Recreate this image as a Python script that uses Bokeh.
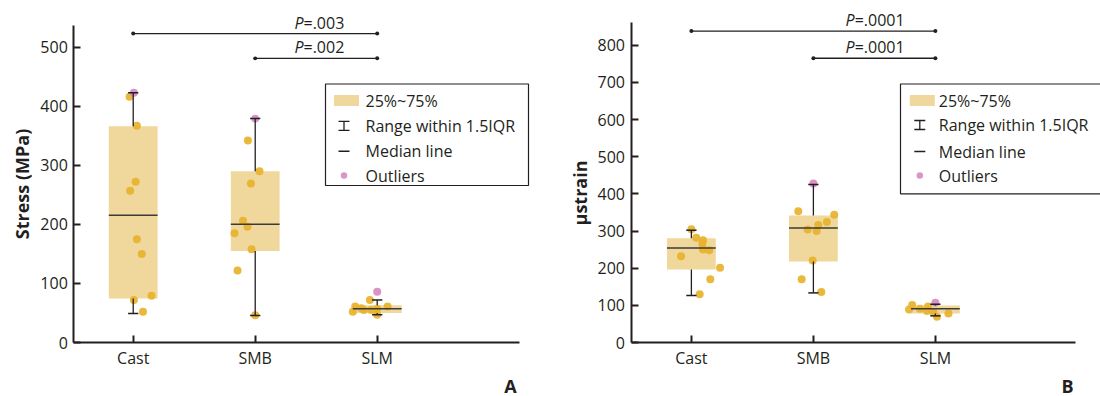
import math
from bokeh.plotting import figure
from bokeh.models import Range1d, FixedTicker
from bokeh.layouts import row
from bokeh.embed import file_html
from bokeh.resources import INLINE
from bokeh.core.properties import value

# ---------------- data ----------------
groups = ["Cast", "SMB", "SLM"]
group_x = [1, 2, 3]

# Panel A: stress (MPa)
stress_cast = [416, 367, 272, 257, 175, 150, 79, 72, 52]
stress_cast_dx = [-0.03, 0.03, 0.02, -0.025, 0.03, 0.07, 0.15, 0.005, 0.08]
stress_smb = [342, 290, 269, 206, 196, 185, 158, 122, 46]
stress_smb_dx = [-0.06, 0.035, -0.035, -0.1, -0.063, -0.17, -0.03, -0.145, 0.0]
stress_slm = [52, 61, 55, 58, 72, 55, 57, 47, 61]
stress_slm_dx = [-0.2, -0.18, -0.11, -0.13, -0.06, -0.05, 0.0, 0.0, 0.085]
stress_outliers = [423, 379, 86]
stress_outliers_x = [1.005, 2.0, 3.0]
stress_q1 = [74.5, 155, 50]
stress_median = [215.6, 200.3, 57]
stress_q3 = [366, 290, 63]
stress_whisker_low = [49, 45.7, 47]
stress_whisker_high = [423, 379, 72]
stress_pairs = [(1, 3), (2, 3)]
stress_pair_y = [523, 481]
stress_p_text = ["=.003", "=.002"]
stress_ticks = [0, 100, 200, 300, 400, 500]

# Panel B: microstrain
strain_cast = [305, 282, 275, 265, 250, 248, 232, 201, 170, 130]
strain_cast_dx = [0.0, 0.04, 0.095, 0.09, 0.095, 0.147, -0.085, 0.235, 0.155, 0.068]
strain_smb = [353, 344, 324, 316, 304, 300, 221, 170, 136]
strain_smb_dx = [-0.124, 0.171, 0.111, 0.04, -0.047, 0.027, -0.006, -0.096, 0.065]
strain_slm = [101, 89, 91, 97, 85, 82, 69, 78]
strain_slm_dx = [-0.19, -0.216, -0.126, -0.06, -0.069, -0.016, 0.013, 0.107]
strain_outliers = [428, 107]
strain_outliers_x = [2.0, 3.0]
strain_q1 = [196.4, 218, 78]
strain_median = [254.6, 308.4, 90.5]
strain_q3 = [280.7, 341.8, 99.5]
strain_whisker_low = [126.5, 133.5, 71.7]
strain_whisker_high = [302, 425, 103]
strain_pairs = [(1, 3), (2, 3)]
strain_pair_y = [838, 765]
strain_p_text = ["=.0001", "=.0001"]
strain_ticks = [0, 100, 200, 300, 400, 500, 600, 700, 800]

legend_labels = ["25%~75%", "Range within 1.5IQR", "Median line", "Outliers"]

# ---------------- styling ----------------
W, H = 550, 396
AXIS_Y = 342            # canvas row of the value axis origin
PX_PER_GROUP = 122.0
FONT = "Open Sans"
INK = "#231f20"
BOX_FILL = "#f0d89c"
DOT = "#e8b22d"
PINK = "#d68bbf"

# approximate advance widths (em) used to centre the "P=..." labels
ADV = {"=": 0.571, ".": 0.265, "0": 0.572, "1": 0.572, "2": 0.572, "3": 0.572}


def text_width(s, size):
    return sum(ADV.get(c, 0.57) for c in s) * size


def make_panel(cfg):
    left = cfg["left"]          # canvas column of the value axis
    x0 = cfg["x0"]              # data x at the value axis
    pxv = cfg["px_per_val"]
    p = figure(width=W, height=H, output_backend="svg", toolbar_location=None,
               x_range=Range1d(x0 - left / PX_PER_GROUP, x0 + (W - left) / PX_PER_GROUP),
               y_range=Range1d(-(H - AXIS_Y) / pxv, AXIS_Y / pxv),
               min_border_left=0, min_border_right=0, min_border_top=0, min_border_bottom=0)
    p.outline_line_color = None
    p.grid.visible = False
    p.background_fill_color = "white"
    p.border_fill_color = "white"

    # axes, pinned inside the frame
    for ax in (p.xaxis[0], p.yaxis[0]):
        ax.axis_line_color = INK
        ax.axis_line_width = 2
        ax.major_tick_line_color = INK
        ax.major_tick_line_width = 2
        ax.major_tick_in = 7
        ax.major_tick_out = 0
        ax.minor_tick_line_color = None
        ax.major_label_text_font = FONT
        ax.major_label_text_font_size = "16px"
        ax.major_label_text_color = INK
    p.xaxis.fixed_location = 0
    p.yaxis.fixed_location = x0
    p.xaxis.ticker = FixedTicker(ticks=group_x)
    p.xaxis.major_label_overrides = {g: n for g, n in zip(group_x, groups)}
    p.xaxis.bounds = cfg["xbounds"]
    p.xaxis.major_label_standoff = 4
    p.yaxis.ticker = FixedTicker(ticks=cfg["ticks"])
    p.yaxis.bounds = cfg["ybounds"]
    p.yaxis.major_label_standoff = 6

    # boxes (interquartile range)
    half = 0.2
    p.quad(left=[g - half for g in group_x], right=[g + half for g in group_x],
           bottom=cfg["q1"], top=cfg["q3"], fill_color=BOX_FILL, line_color=None)

    # individual samples
    xs, ys = [], []
    for g, vals, dxs in zip(group_x, cfg["pts"], cfg["dxs"]):
        xs += [g + d for d in dxs]
        ys += vals
    p.scatter(xs, ys, marker="circle", size=8, fill_color=DOT, fill_alpha=0.92,
              line_color=None)
    p.scatter(cfg["out_x"], cfg["out_y"], marker="circle", size=8, fill_color=PINK,
              fill_alpha=0.92, line_color=None)

    # whiskers and caps
    cap = 0.042
    p.segment(x0=group_x, y0=cfg["q3"], x1=group_x, y1=cfg["whi"], line_color=INK, line_width=1.3)
    p.segment(x0=group_x, y0=cfg["q1"], x1=group_x, y1=cfg["wlo"], line_color=INK, line_width=1.3)
    p.segment(x0=[g - cap for g in group_x], y0=cfg["whi"], x1=[g + cap for g in group_x],
              y1=cfg["whi"], line_color=INK, line_width=1.5)
    p.segment(x0=[g - cap for g in group_x], y0=cfg["wlo"], x1=[g + cap for g in group_x],
              y1=cfg["wlo"], line_color=INK, line_width=1.5)
    # medians
    p.segment(x0=[g - half for g in group_x], y0=cfg["med"], x1=[g + half for g in group_x],
              y1=cfg["med"], line_color="#3a3a3a", line_width=1.5)

    # significance brackets
    a = [pr[0] for pr in cfg["pairs"]]
    b = [pr[1] for pr in cfg["pairs"]]
    p.segment(x0=a, y0=cfg["pair_y"], x1=b, y1=cfg["pair_y"], line_color=INK, line_width=1.3)
    p.scatter(a + b, cfg["pair_y"] * 2, marker="circle", size=4, fill_color=INK, line_color=None)
    fs = 16
    p_w = 0.58 * fs
    offs = [-(p_w + text_width(t, fs)) / 2 + p_w for t in cfg["p_text"]]
    cx = [cfg["p_center"]] * len(cfg["p_text"])
    ty = [v + 11 / pxv for v in cfg["pair_y"]]     # text sits just above its bracket
    p.text(x=cx, y=ty, text=["P"] * len(offs), x_offset=offs,
           text_align="right", text_baseline="middle", text_font=value(FONT),
           text_font_style="italic", text_font_size=f"{fs}px", text_color=INK)
    p.text(x=cx, y=ty, text=cfg["p_text"], x_offset=offs,
           text_align="left", text_baseline="middle", text_font=value(FONT),
           text_font_size=f"{fs}px", text_color=INK)

    # legend and captions, laid out in canvas pixels
    p.extra_x_ranges = {"px": Range1d(0, W)}
    p.extra_y_ranges = {"py": Range1d(0, H)}
    kw = dict(x_range_name="px", y_range_name="py")

    def Y(cy):
        return H - cy

    lg = cfg["legend"]
    p.quad(left=[lg["l"]], right=[lg["r"]], top=[Y(lg["t"])], bottom=[Y(lg["b"])],
           fill_color=None, line_color=INK, line_width=1.2, **kw)
    rows = lg["rows"]
    sx = lg["sym"]
    p.quad(left=[sx - 10], right=[sx + 15], top=[Y(rows[0] - 5.5)], bottom=[Y(rows[0] + 5.5)],
           fill_color=BOX_FILL, line_color=None, **kw)
    yt, yb = rows[1] - 4.5, rows[1] + 4.5
    p.segment(x0=[sx, sx - 5.5, sx - 5.5], y0=[Y(yt), Y(yt), Y(yb)],
              x1=[sx, sx + 5.5, sx + 5.5], y1=[Y(yb), Y(yt), Y(yb)],
              line_color=INK, line_width=1.3, **kw)
    p.segment(x0=[sx - 5.5], y0=[Y(rows[2])], x1=[sx + 5.5], y1=[Y(rows[2])],
              line_color=INK, line_width=1.5, **kw)
    p.scatter([sx], [Y(rows[3])], marker="circle", size=6.5, fill_color=PINK,
              fill_alpha=0.9, line_color=None, **kw)
    p.text(x=[lg["tx"]] * 4, y=[Y(r) for r in rows], text=legend_labels,
           text_align="left", text_baseline="middle", text_font=value(FONT),
           text_font_size="16px", text_color=INK, **kw)

    p.text(x=[cfg["ylab_x"]], y=[Y(cfg["ylab_y"])], text=[cfg["ylabel"]], angle=math.pi / 2,
           text_align="center", text_baseline="middle", text_font=value(FONT),
           text_font_style="bold", text_font_size="18px", text_color=INK, **kw)
    p.text(x=[cfg["letter_x"]], y=[Y(385)], text=[cfg["letter"]],
           text_align="center", text_baseline="middle", text_font=value(FONT),
           text_font_style="bold", text_font_size="18px", text_color=INK, **kw)
    return p


panel_a = make_panel(dict(
    left=73.3, x0=0.513, px_per_val=0.5907,
    xbounds=(0.513, 4.166), ybounds=(0, 537), ticks=stress_ticks,
    q1=stress_q1, q3=stress_q3, med=stress_median,
    wlo=stress_whisker_low, whi=stress_whisker_high,
    pts=[stress_cast, stress_smb, stress_slm],
    dxs=[stress_cast_dx, stress_smb_dx, stress_slm_dx],
    out_x=stress_outliers_x, out_y=stress_outliers,
    pairs=stress_pairs, pair_y=stress_pair_y, p_text=stress_p_text, p_center=2.525,
    legend=dict(l=325, r=528, t=83.5, b=185, rows=[100, 125.3, 150.7, 175], sym=343.5, tx=365),
    ylabel="Stress (MPa)", ylab_x=21, ylab_y=183.5, letter="A", letter_x=510,
))

panel_b = make_panel(dict(
    left=80.5, x0=0.505, px_per_val=0.3716,
    xbounds=(0.505, 4.148), ybounds=(0, 860), ticks=strain_ticks,
    q1=strain_q1, q3=strain_q3, med=strain_median,
    wlo=strain_whisker_low, whi=strain_whisker_high,
    pts=[strain_cast, strain_smb, strain_slm],
    dxs=[strain_cast_dx, strain_smb_dx, strain_slm_dx],
    out_x=strain_outliers_x, out_y=strain_outliers,
    pairs=strain_pairs, pair_y=strain_pair_y, p_text=strain_p_text, p_center=2.505,
    legend=dict(l=350, r=560, t=83.5, b=193.3, rows=[100, 124.5, 151, 175], sym=369.3, tx=388.3),
    ylabel="µstrain", ylab_x=29, ylab_y=192.5, letter="B", letter_x=517,
))

layout = row(panel_a, panel_b)
open("out.html", "w").write(file_html(layout, INLINE))
